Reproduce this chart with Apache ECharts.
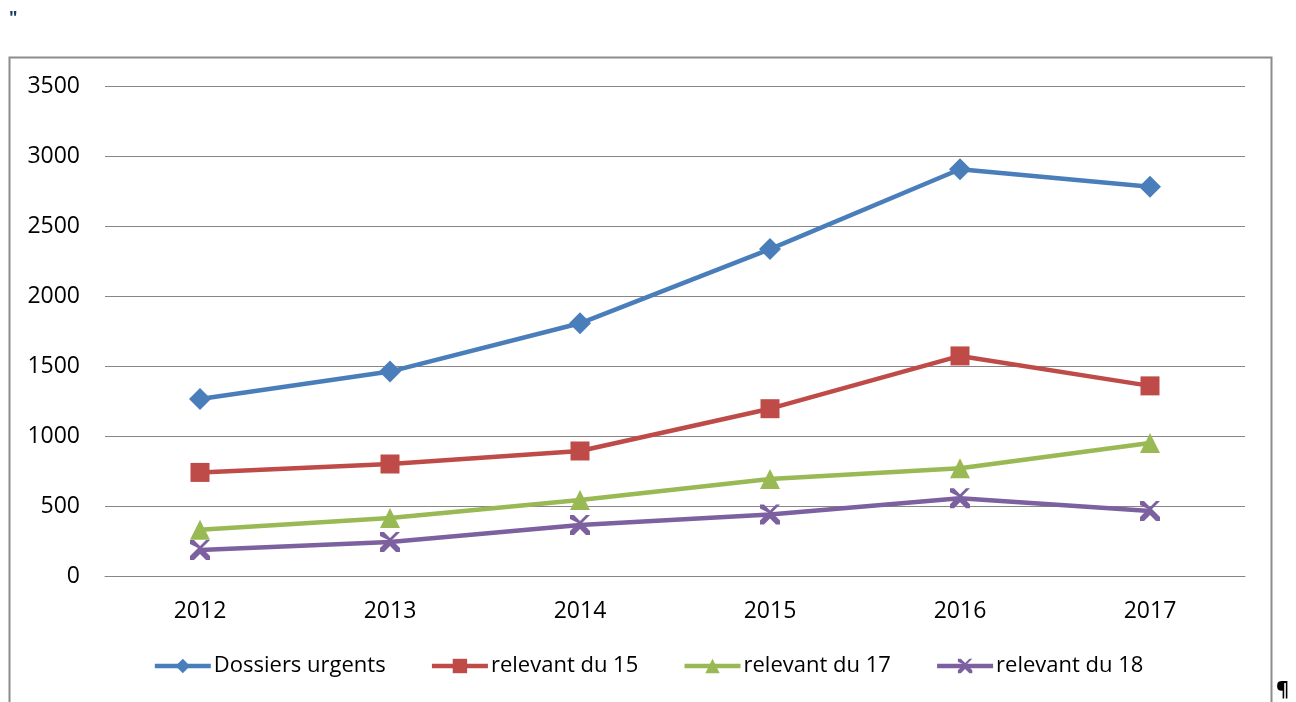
<!DOCTYPE html>
<html>
<head>
<meta charset="utf-8">
<script src="https://cdn.jsdelivr.net/npm/echarts@6/dist/echarts.min.js"></script>
<style>
  html, body { margin: 0; padding: 0; background: #fff; }
  #chart { width: 1296px; height: 702px; }
</style>
</head>
<body>
<div id="chart"></div>
<script>
const years = ['2012', '2013', '2014', '2015', '2016', '2017'];
const dossiersUrgents = [1265, 1460, 1805, 2335, 2905, 2780];
const relevant15 = [740, 800, 893, 1195, 1572, 1358];
const relevant17 = [330, 415, 543, 693, 770, 950];
const relevant18 = [185, 243, 364, 440, 555, 464];
const yTicks = { min: 0, max: 3500, interval: 500 };

const fontFamily = '"Open Sans", "Liberation Sans", sans-serif';

function lineSeries(name, data, color, symbol, size) {
  return {
    name: name,
    type: 'line',
    data: data,
    symbol: symbol,
    symbolSize: size,
    showSymbol: true,
    lineStyle: { color: color, width: 4.5 },
    itemStyle: { color: color, borderWidth: 0 },
    emphasis: { disabled: true }
  };
}

const chart = echarts.init(document.getElementById('chart'));
chart.setOption({
  animation: false,
  backgroundColor: '#fff',
  textStyle: { fontFamily: fontFamily },
  graphic: [
    {
      type: 'rect',
      shape: { x: 9.5, y: 57.5, width: 1262, height: 700 },
      style: { fill: 'none', stroke: '#8c8c8c', lineWidth: 2 },
      silent: true
    },
    {
      type: 'text', left: 9, top: 10,
      style: { text: '"', fill: '#1f3b63', font: 'bold 18px ' + fontFamily }
    },
    {
      type: 'text', left: 1276, top: 680,
      style: { text: '¶', fill: '#000', font: 'bold 20px ' + fontFamily }
    }
  ],
  grid: { left: 105, right: 51, top: 86, bottom: 126, containLabel: false },
  legend: {
    bottom: 20,
    left: 'center',
    itemWidth: 56,
    itemHeight: 18,
    itemGap: 44,
    lineStyle: { width: 4.5 },
    textStyle: { fontSize: 22, color: '#000', fontFamily: fontFamily, padding: [0, 0, 0, -2] },
    data: ['Dossiers urgents', 'relevant du 15', 'relevant du 17', 'relevant du 18']
  },
  xAxis: {
    type: 'category',
    data: years,
    boundaryGap: true,
    axisLine: { show: true, lineStyle: { color: '#868686', width: 1 } },
    axisTick: { show: false },
    axisLabel: { fontSize: 23, color: '#000', margin: 24 }
  },
  yAxis: {
    type: 'value',
    min: yTicks.min,
    max: yTicks.max,
    interval: yTicks.interval,
    axisLine: { show: false },
    axisTick: { show: false },
    axisLabel: { fontSize: 23, color: '#000', margin: 25, formatter: function (v) { return String(v); } },
    splitLine: { lineStyle: { color: '#868686', width: 1 } }
  },
  series: [
    lineSeries('Dossiers urgents', dossiersUrgents, '#4a7ebb', 'diamond', 22),
    lineSeries('relevant du 15', relevant15, '#be4b48', 'rect', 19),
    lineSeries('relevant du 17', relevant17, '#98b954', 'triangle', 20),
    lineSeries('relevant du 18', relevant18, '#7d60a0',
      'path://M0,0L2,0L5,3L8,0L10,0L6,4L10,8L10,10L8,10L5,7L2,10L0,10L0,8L4,4L0,2Z', 20)
  ]
});
</script>
</body>
</html>
